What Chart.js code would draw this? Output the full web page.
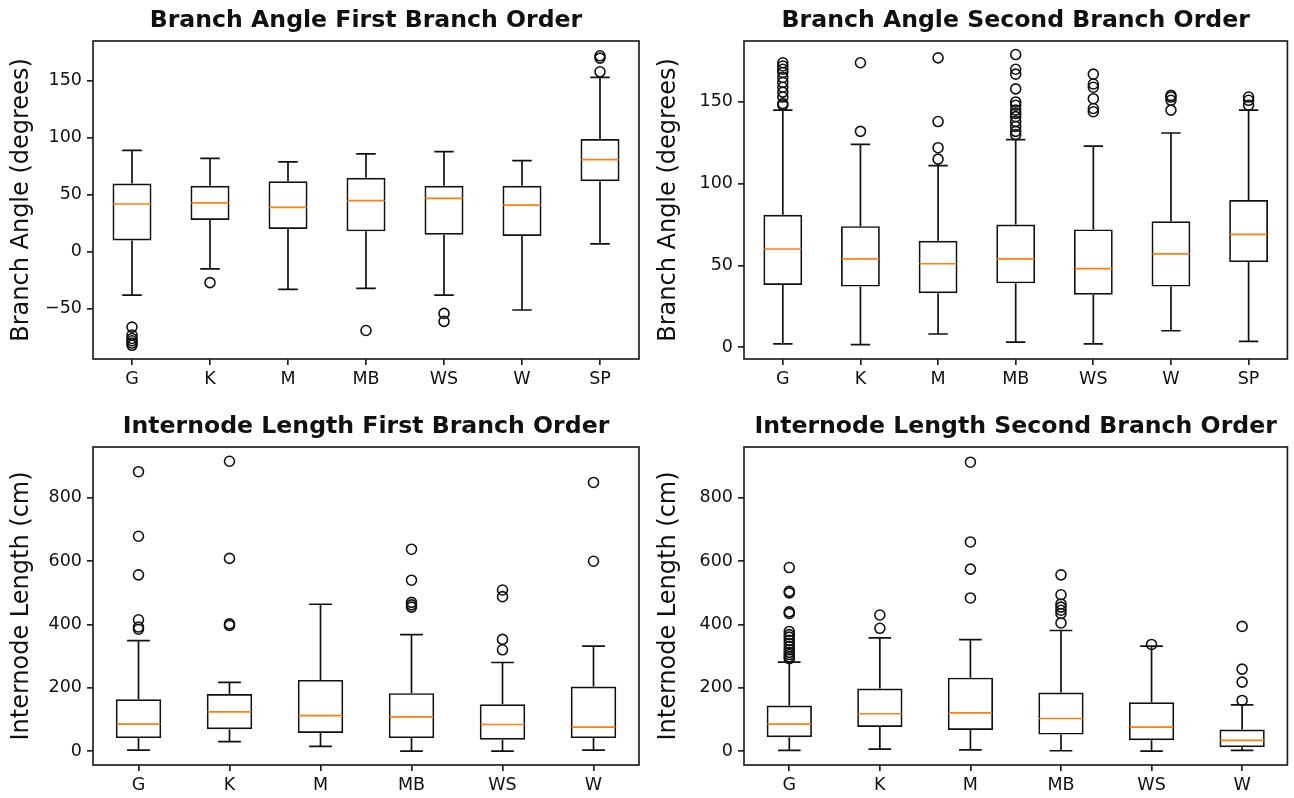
<!DOCTYPE html>
<html>
<head>
<meta charset="utf-8">
<script src="https://cdn.jsdelivr.net/npm/chart.js@4.4.0/dist/chart.umd.min.js"></script>
<style>
  body { margin: 0; background: #fff; width: 1294px; height: 798px; position: relative; overflow: hidden; }
  canvas { position: absolute; }
</style>
</head>
<body>
<canvas id="c1" width="647" height="400" style="left:0;top:0"></canvas>
<canvas id="c2" width="647" height="400" style="left:647px;top:0"></canvas>
<canvas id="c3" width="647" height="398" style="left:0;top:400px"></canvas>
<canvas id="c4" width="647" height="398" style="left:647px;top:400px"></canvas>
<script>
const cats7 = ['G', 'K', 'M', 'MB', 'WS', 'W', 'SP'];
const cats6 = ['G', 'K', 'M', 'MB', 'WS', 'W'];

// Branch angle, first branch order
const ang1Low  = [-38, -15, -33, -32, -38, -51, 7];
const ang1Q1   = [10, 28, 20, 18, 15, 14, 62];
const ang1Med  = [42, 43, 39, 45, 47, 41, 81];
const ang1Q3   = [60, 58, 62, 65, 58, 58, 99];
const ang1High = [89, 82, 79, 86, 88, 80, 153];
const ang1Out  = [[-66, -73, -76, -78, -80, -82], [-27], [], [-69], [-54, -61], [], [158, 170, 172]];
const ang1Ticks = [-50, 0, 50, 100, 150];

// Branch angle, second branch order
const ang2Low  = [2, 1.5, 8, 3, 2, 10, 3.5];
const ang2Q1   = [38, 37, 33, 39, 32, 37, 52];
const ang2Med  = [60, 54, 51, 54, 48, 57, 69];
const ang2Q3   = [81, 74, 65, 75, 72, 77, 90];
const ang2High = [145, 124, 111, 127, 123, 131, 145];
const ang2Out  = [
  [148, 149, 153, 156, 159, 162, 165, 168, 170, 172, 174],
  [132, 174],
  [115, 122, 138, 177],
  [130, 132, 135, 138, 141, 143, 145, 148, 150, 158, 167, 170, 179],
  [144, 146, 152, 159, 161, 167],
  [145, 151, 153, 154],
  [148, 151, 153]
];
const ang2Ticks = [0, 50, 100, 150];

// Internode length, first branch order
const len1Low  = [3, 30, 15, 0, 0, 3];
const len1Q1   = [41, 69, 57, 41, 36, 41];
const len1Med  = [85, 124, 112, 108, 84, 76];
const len1Q3   = [164, 180, 225, 183, 148, 204];
const len1High = [349, 217, 464, 368, 280, 332];
const len1Out  = [[385, 392, 415, 557, 679, 883], [397, 402, 609, 916], [], [455, 462, 470, 540, 638], [320, 353, 488, 509], [600, 849]];
const lenTicks = [0, 200, 400, 600, 800];

// Internode length, second branch order
const len2Low  = [2, 6, 4, 1, 0, 2];
const len2Q1   = [44, 76, 67, 52, 34, 12];
const len2Med  = [85, 118, 121, 103, 76, 34];
const len2Q3   = [144, 198, 232, 185, 154, 68];
const len2High = [281, 358, 352, 381, 332, 146];
const len2Out  = [
  [292, 298, 305, 312, 320, 330, 340, 350, 360, 368, 378, 435, 440, 500, 505, 580],
  [388, 430],
  [484, 575, 661, 913],
  [405, 435, 445, 455, 465, 494, 557],
  [337],
  [160, 218, 259, 394]
];

const FONT = 'DejaVu Sans';
const LW = 1.7;
const TITLE_SIZE = 23.6;

function minusFmt(v) {
  return v < 0 ? '\u2212' + Math.abs(v) : String(v);
}

function makePanel(id, cats, low, q1, med, q3, high, out, yMin, yMax, yTicks, title, yLabel, box) {
  const canvas = document.getElementById(id);
  const W = canvas.width, H = canvas.height;
  const titleBottom = 5.5;

  const outPts = [];
  out.forEach((arr, i) => arr.forEach(v => outPts.push({ x: cats[i], y: v })));

  // whiskers, caps, medians and the frame, drawn through the chart's scales
  const boxParts = {
    id: 'boxParts',
    afterDatasetsDraw(chart) {
      const { ctx, chartArea: a, scales: { x, y } } = chart;
      const band = x.width / cats.length;
      ctx.save();
      ctx.lineWidth = LW;
      ctx.strokeStyle = '#111';
      cats.forEach((c, i) => {
        const px = x.getPixelForValue(i);
        const cap = band * 0.125;
        ctx.beginPath();
        ctx.moveTo(px, y.getPixelForValue(q1[i]));
        ctx.lineTo(px, y.getPixelForValue(low[i]));
        ctx.moveTo(px, y.getPixelForValue(q3[i]));
        ctx.lineTo(px, y.getPixelForValue(high[i]));
        ctx.moveTo(px - cap, y.getPixelForValue(low[i]));
        ctx.lineTo(px + cap, y.getPixelForValue(low[i]));
        ctx.moveTo(px - cap, y.getPixelForValue(high[i]));
        ctx.lineTo(px + cap, y.getPixelForValue(high[i]));
        ctx.stroke();
      });
      ctx.strokeStyle = '#ff7f0e';
      cats.forEach((c, i) => {
        const px = x.getPixelForValue(i);
        const half = band * 0.25 - LW / 2;
        const py = y.getPixelForValue(med[i]);
        ctx.beginPath();
        ctx.moveTo(px - half, py);
        ctx.lineTo(px + half, py);
        ctx.stroke();
      });
      ctx.strokeStyle = '#222';
      ctx.strokeRect(a.left, a.top, a.width, a.height);
      ctx.restore();
    }
  };

  return new Chart(canvas, {
    type: 'bar',
    data: {
      labels: cats,
      datasets: [
        {
          type: 'bar',
          data: q1.map((v, i) => [v, q3[i]]),
          backgroundColor: 'rgba(0,0,0,0)',
          borderColor: '#111',
          borderWidth: LW,
          borderSkipped: false,
          barPercentage: 0.5,
          categoryPercentage: 1,
          order: 2
        },
        {
          type: 'scatter',
          data: outPts,
          pointRadius: 5,
          pointBorderWidth: 1.6,
          pointBackgroundColor: 'rgba(0,0,0,0)',
          pointBorderColor: '#111',
          pointHoverRadius: 5,
          order: 1
        }
      ]
    },
    options: {
      responsive: false,
      animation: false,
      events: [],
      layout: { padding: { left: 0, top: 0, right: W - box.right, bottom: 0 } },
      plugins: {
        legend: { display: false },
        tooltip: { enabled: false },
        title: {
          display: true,
          text: title,
          fullSize: false,
          color: '#111',
          font: { family: FONT, size: TITLE_SIZE, weight: 'bold' },
          padding: { top: box.top - TITLE_SIZE * 1.2 - titleBottom, bottom: titleBottom }
        }
      },
      scales: {
        x: {
          type: 'category',
          offset: true,
          border: { display: false },
          grid: { display: true, drawOnChartArea: false, offset: false, tickLength: 6, color: '#222', lineWidth: LW },
          ticks: { color: '#111', font: { family: FONT, size: 17.5 }, padding: 4, maxRotation: 0, autoSkip: false },
          afterFit: s => { s.height = H - box.bottom; }
        },
        y: {
          type: 'linear',
          min: yMin,
          max: yMax,
          border: { display: false },
          grid: { display: true, drawOnChartArea: false, tickLength: 6, color: '#222', lineWidth: LW },
          ticks: { color: '#111', font: { family: FONT, size: 17.5 }, padding: 5, callback: v => minusFmt(v) },
          afterBuildTicks: s => { s.ticks = yTicks.map(v => ({ value: v })); },
          title: { display: true, text: yLabel, color: '#111', font: { family: FONT, size: 24 }, padding: { top: 7, bottom: 0 } },
          afterFit: s => { s.width = box.left; }
        }
      }
    },
    plugins: [boxParts]
  });
}

makePanel('c1', cats7, ang1Low, ang1Q1, ang1Med, ang1Q3, ang1High, ang1Out, -94, 185, ang1Ticks,
  'Branch Angle First Branch Order', 'Branch Angle (degrees)', { left: 93, top: 41, right: 639, bottom: 359 });
makePanel('c2', cats7, ang2Low, ang2Q1, ang2Med, ang2Q3, ang2High, ang2Out, -7.3, 187.3, ang2Ticks,
  'Branch Angle Second Branch Order', 'Branch Angle (degrees)', { left: 97, top: 41, right: 642, bottom: 359 });
makePanel('c3', cats6, len1Low, len1Q1, len1Med, len1Q3, len1High, len1Out, -44, 961, lenTicks,
  'Internode Length First Branch Order', 'Internode Length (cm)', { left: 93, top: 47, right: 639, bottom: 365 });
makePanel('c4', cats6, len2Low, len2Q1, len2Med, len2Q3, len2High, len2Out, -44, 961, lenTicks,
  'Internode Length Second Branch Order', 'Internode Length (cm)', { left: 97, top: 47, right: 642, bottom: 365 });
</script>
</body>
</html>
